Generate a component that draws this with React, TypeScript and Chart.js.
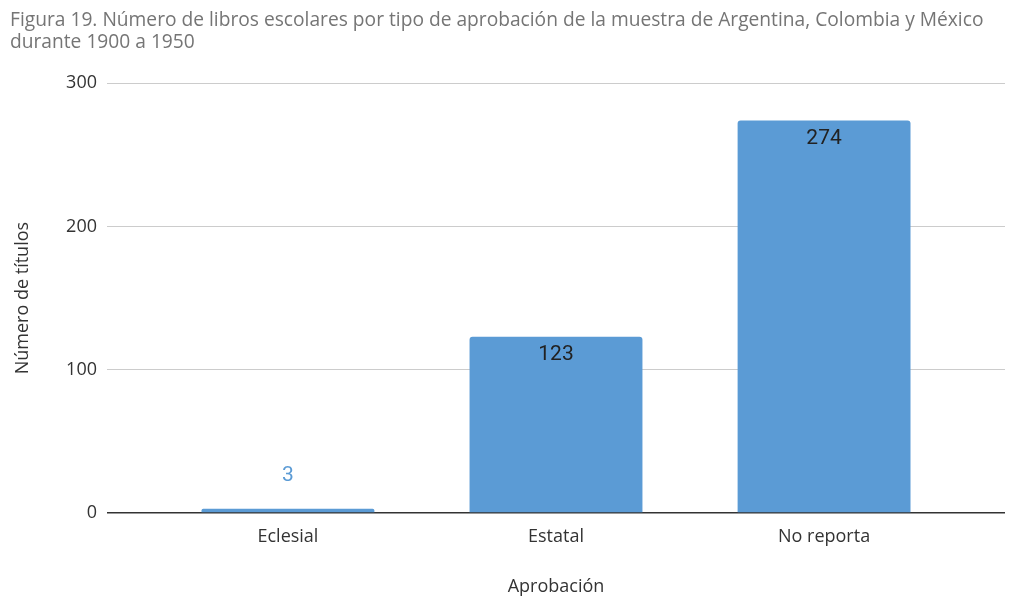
import React, { useEffect, useRef } from "react";
import { Chart, registerables } from "chart.js";

Chart.register(...registerables);

const titleLines = [
  "Figura 19. Número de libros escolares por tipo de aprobación de la muestra de Argentina, Colombia y México",
  "durante 1900 a 1950",
];
const categories = ["Eclesial", "Estatal", "No reporta"];
const values = [3, 123, 274];
const yTicks = [0, 100, 200, 300];
const xAxisTitle = "Aprobación";
const yAxisTitle = "Número de títulos";

const BAR = "#5b9bd5";

const labelPlugin = {
  id: "valueLabels",
  afterDatasetsDraw(chart: any) {
    const ctx = chart.ctx;
    const meta = chart.getDatasetMeta(0);
    ctx.save();
    ctx.font = "21px Roboto";
    ctx.textAlign = "center";
    ctx.textBaseline = "middle";
    meta.data.forEach((el: any, i: number) => {
      const v = values[i];
      const h = el.base - el.y;
      if (h > 40) {
        ctx.fillStyle = "#222222";
        ctx.fillText(String(v), el.x, el.y + 18);
      } else {
        ctx.fillStyle = BAR;
        ctx.fillText(String(v), el.x, el.y - 33);
      }
    });
    ctx.restore();
  },
};

export default function App() {
  const ref = useRef<HTMLCanvasElement>(null);
  useEffect(() => {
    document.body.style.margin = "0";
    const chart = new Chart(ref.current!, {
      type: "bar",
      data: {
        datasets: [
          {
            data: values.map((v, i) => ({ x: i, y: v })),
            backgroundColor: BAR,
            borderRadius: 3,
            borderSkipped: "bottom",
            categoryPercentage: 1,
            barPercentage: 0.645,
          },
        ],
      },
      options: {
        animation: false,
        responsive: false,
        layout: { padding: { left: 10, right: 8, top: 0, bottom: 0 } },
        plugins: {
          legend: { display: false },
          tooltip: { enabled: false },
          title: {
            display: true,
            text: titleLines,
            align: "start",
            color: "#757575",
            font: { family: "'Open Sans'", size: 19.2, weight: "normal", lineHeight: 1.15 },
            padding: { top: 9, bottom: 30 },
          },
        },
        scales: {
          x: {
            type: "linear",
            offset: false,
            min: -0.675,
            max: 2.675,
            grid: { display: false, drawTicks: false },
            border: { display: false },
            afterBuildTicks: (s: any) => {
              s.ticks = categories.map((_, i) => ({ value: i }));
            },
            afterFit: (s: any) => {
              s.height = 85;
            },
            ticks: {
              callback: (v: any) => categories[v as number] ?? "",
              color: "#333333",
              font: { family: "'Open Sans'", size: 18 },
              padding: 13,
              maxRotation: 0,
              autoSkip: false,
            },
            title: {
              display: true,
              text: xAxisTitle,
              color: "#333333",
              font: { family: "'Open Sans'", size: 18 },
              padding: { top: 0, bottom: 0 },
            },
          },
          y: {
            min: 0,
            max: 300,
            afterBuildTicks: (s: any) => {
              s.ticks = yTicks.map((v) => ({ value: v }));
            },
            afterFit: (s: any) => {
              s.width = 97;
            },
            grid: {
              color: (c: any) => (c.tick && c.tick.value === 0 ? "#333333" : "#cccccc"),
              lineWidth: (c: any) => (c.tick && c.tick.value === 0 ? 1.5 : 1),
              drawTicks: false,
            },
            border: { display: false },
            ticks: {
              color: "#333333",
              font: { family: "'Open Sans'", size: 18 },
              padding: 10,
            },
            title: {
              display: true,
              text: yAxisTitle,
              color: "#333333",
              font: { family: "'Open Sans'", size: 18 },
              padding: { top: 2, bottom: 0 },
            },
          },
        },
      },
      plugins: [labelPlugin],
    } as any);
    return () => chart.destroy();
  }, []);
  return (
    <div style={{ width: 1013, height: 598 }}>
      <canvas ref={ref} width={1013} height={598} style={{ display: "block" }} />
    </div>
  );
}
